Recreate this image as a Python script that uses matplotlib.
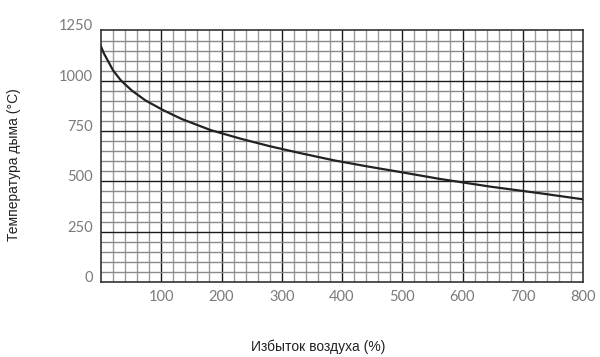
import matplotlib
matplotlib.use("Agg")
import matplotlib.pyplot as plt
import numpy as np

excess_air = [0, 5, 11, 20, 33, 51, 74, 104, 134, 182, 232, 280, 330, 386, 441, 496, 563, 646, 729, 800]
smoke_temp = [1170, 1135, 1102, 1052, 1002, 952, 902, 853, 810, 755, 712, 675, 641, 605, 575, 547, 512, 474, 441, 411]

x_ticks = [100, 200, 300, 400, 500, 600, 700, 800]
y_ticks = [0, 250, 500, 750, 1000, 1250]
x_label = "Избыток воздуха (%)"
y_label = "Температура дыма (°C)"

fig = plt.figure(figsize=(6.0, 3.57), dpi=100)
ax = fig.add_axes([101/600, 1-282/357, 482/600, 251.5/357])

ax.set_xlim(0, 800)
ax.set_ylim(0, 1250)

# grid
for v in np.arange(20, 800, 20):
    major = (v % 100 == 0)
    ax.axvline(v, color="#1a1a1a" if major else "#9a9a9a", lw=1.0, zorder=1)
for v in np.arange(50, 1250, 50):
    major = (v % 250 == 0)
    ax.axhline(v, color="#1a1a1a" if major else "#8a8a8a", lw=1.0, zorder=1)

ax.plot(excess_air, smoke_temp, color="#222222", lw=1.6, zorder=3,
        solid_joinstyle="round")

for s in ax.spines.values():
    s.set_color("#333333")
    s.set_linewidth(1.2)

ax.set_xticks(x_ticks)
ax.set_yticks(y_ticks)
ax.set_yticklabels([])
ax.set_xticklabels([])
ax.tick_params(length=0)

tick_font = dict(fontsize=10.5, color="#7a7a7a", family=["Lato", "DejaVu Sans"])
ytr = ax.get_yaxis_transform()
for v in y_ticks:
    ax.text(-0.017, v, str(v), transform=ytr, ha="right", va="baseline", **tick_font)
xtr = ax.get_xaxis_transform()
for v in x_ticks:
    ax.text(v, -0.06, str(v), transform=xtr, ha="center", va="center", **tick_font)

lab_font = dict(fontsize=10, color="#222222", family=["Liberation Sans", "DejaVu Sans"])
fig.text(318/600, 1-347/357, x_label, ha="center", va="center", **lab_font)
fig.text(14/600, 1-165/357, y_label, ha="center", va="center", rotation=90, **lab_font)

fig.savefig("out.png", dpi=100, facecolor="white")
